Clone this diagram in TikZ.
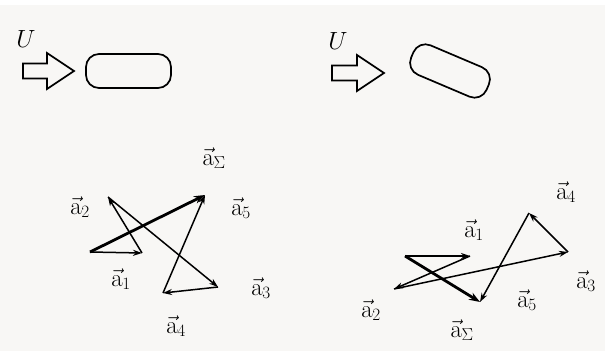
\documentclass[tikz,border=0pt]{standalone}
\usepackage{amsmath,amssymb}
\usepackage{xcolor}
\usepackage{tikz}
\usetikzlibrary{arrows.meta, positioning}
\usetikzlibrary{calc}

\definecolor{paper}{RGB}{248,247,245}

\begin{document}
\begin{tikzpicture}[x=1pt, y=-1pt,
  every node/.style={font=\fontsize{23}{27}\selectfont},
  vecline/.style={line width=1.5pt, -{Stealth[length=9pt,width=6pt]}},
  sumline/.style={line width=2.8pt, -{Stealth[length=11pt,width=8pt]}},
  blockarrow/.style={line width=1.7pt, line join=miter},
  body/.style={draw, line width=1.7pt, rounded corners=13pt, inner sep=0pt}]

  % background
  \fill[paper] (0,0) rectangle (605,351);
  \fill[white] (0,0) rectangle (605,5);
  \useasboundingbox (0,0) rectangle (605,351);

  % ==== Top: flow onto the body ====

  % left: body along the flow
  \node (uL) at (26,39) {$U$};
  \draw[blockarrow] (23,63.5) -- (47,63.5) -- (47,53) -- (74,71) -- (47,89)
    -- (47,78.5) -- (23,78.5) -- cycle;
  \node[body, minimum width=85pt, minimum height=34pt] (bodyL) at (128.5,71) {};

  % right: body at an angle
  \node (uR) at (338,41) {$U$};
  \draw[blockarrow] (332,65.5) -- (357,65.5) -- (357,55) -- (384,73) -- (357,91)
    -- (357,80.5) -- (332,80.5) -- cycle;
  \node[body, minimum width=82pt, minimum height=32pt, rotate=-23] (bodyR) at (450,71) {};

  % ==== Bottom left: vector sum ====

  \coordinate (l0) at (90,252);
  \coordinate (l1) at (142,253);
  \coordinate (l2) at (108,197);
  \coordinate (l3) at (218,287);
  \coordinate (l4) at (163,293);
  \coordinate (l5) at (205,195);

  \draw[vecline] (l0) -- (l1);
  \draw[vecline] (l1) -- (l2);
  \draw[vecline] (l2) -- (l3);
  \draw[vecline] (l3) -- (l4);
  \draw[vecline] (l4) -- (l5);
  \draw[sumline] (l0) -- (l5);

  \node (la1) at (121,279) {$\vec{\mathrm{a}}_1$};
  \node (la2) at (80,207) {$\vec{\mathrm{a}}_2$};
  \node (la3) at (261,288) {$\vec{\mathrm{a}}_3$};
  \node (la4) at (176,326) {$\vec{\mathrm{a}}_4$};
  \node (la5) at (241,208) {$\vec{\mathrm{a}}_5$};
  \node (laS) at (214,158) {$\vec{\mathrm{a}}_{\Sigma}$};

  % ==== Bottom right: vector sum ====

  \coordinate (r0) at (405,256);
  \coordinate (r1) at (470,256);
  \coordinate (r2) at (394,289);
  \coordinate (r3) at (568,252);
  \coordinate (r4) at (529,213);
  \coordinate (r5) at (480,302);

  \draw[vecline] (r0) -- (r1);
  \draw[vecline] (r1) -- (r2);
  \draw[vecline] (r2) -- (r3);
  \draw[vecline] (r3) -- (r4);
  \draw[vecline] (r4) -- (r5);
  \draw[sumline] (r0) -- (r5);

  \node (ra1) at (474,230) {$\vec{\mathrm{a}}_1$};
  \node (ra2) at (371,310) {$\vec{\mathrm{a}}_2$};
  \node (ra3) at (586,281) {$\vec{\mathrm{a}}_3$};
  \node (ra4) at (566,192) {$\vec{\mathrm{a}}_4$};
  \node (ra5) at (527,300) {$\vec{\mathrm{a}}_5$};
  \node (raS) at (462,330) {$\vec{\mathrm{a}}_{\Sigma}$};
\end{tikzpicture}
\end{document}
